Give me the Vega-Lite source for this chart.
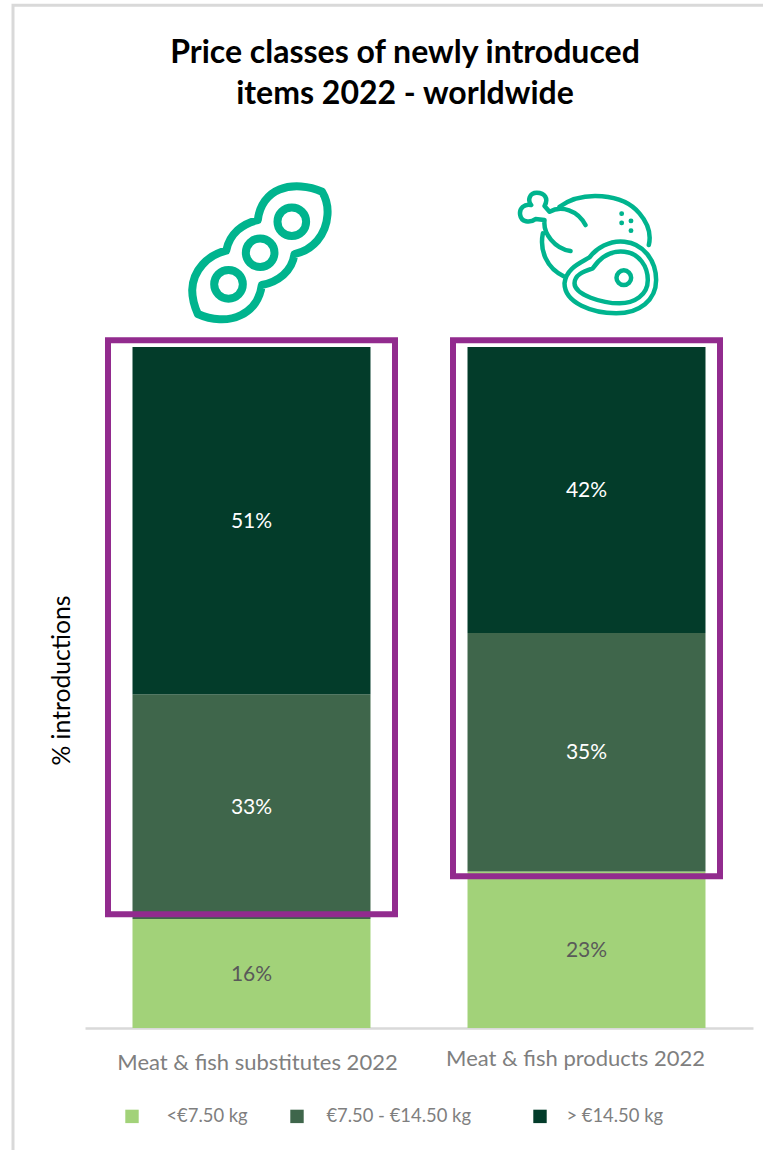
{
  "$schema": "https://vega.github.io/schema/vega-lite/v6.json",
  "autosize": {"type": "none"},
  "padding": {"left": 85, "top": 170, "right": 10, "bottom": 122},
  "width": 668,
  "height": 858,
  "background": "white",
  "view": {"stroke": null},
  "title": {
    "text": ["Price classes of newly introduced", "items 2022 - worldwide"],
    "anchor": "middle",
    "frame": "group",
    "dx": -14,
    "offset": -107,
    "font": "Lato",
    "fontSize": 32,
    "fontWeight": "bold",
    "lineHeight": 41,
    "color": "#000000"
  },
  "datasets": {
    "shares": [
      {"category": "Meat & fish substitutes 2022", "priceClass": "<€7.50 kg", "rank": 0, "share": 0.16},
      {"category": "Meat & fish substitutes 2022", "priceClass": "€7.50 - €14.50 kg", "rank": 1, "share": 0.33},
      {"category": "Meat & fish substitutes 2022", "priceClass": "> €14.50 kg", "rank": 2, "share": 0.51},
      {"category": "Meat & fish products 2022", "priceClass": "<€7.50 kg", "rank": 0, "share": 0.23},
      {"category": "Meat & fish products 2022", "priceClass": "€7.50 - €14.50 kg", "rank": 1, "share": 0.35},
      {"category": "Meat & fish products 2022", "priceClass": "> €14.50 kg", "rank": 2, "share": 0.42}
    ]
  },
  "encoding": {
    "x": {
      "field": "category",
      "type": "nominal",
      "sort": ["Meat & fish substitutes 2022", "Meat & fish products 2022"],
      "scale": {
        "domain": ["Meat & fish substitutes 2022", "Meat & fish products 2022"],
        "paddingInner": 0.2896,
        "paddingOuter": 0.1418
      },
      "axis": {
        "title": null,
        "labelAngle": 0,
        "labelFont": "Lato",
        "labelFontSize": 22,
        "labelColor": "#7F7F7F",
        "labelOffset": {"condition": {"test": "datum.value === 'Meat & fish products 2022'", "value": -11}, "value": 6},
        "labelPadding": {"condition": {"test": "datum.value === 'Meat & fish products 2022'", "value": 20}, "value": 24},
        "labelLimit": 400,
        "ticks": false,
        "domainColor": "#D9D9D9",
        "domainWidth": 2.5
      }
    }
  },
  "layer": [
    {
      "description": "Thin page frame along the top and left edges",
      "data": {"values": [{"category": "Meat & fish products 2022", "from": -0.253, "to": 1.502}]},
      "mark": {"type": "bar", "width": 1147, "fill": "transparent", "stroke": "#D9D9D9", "strokeWidth": 3},
      "encoding": {
        "y": {"field": "to", "type": "quantitative", "scale": {"domain": [0, 1.26], "nice": false}},
        "y2": {"field": "from"}
      }
    },
    {
      "data": {"name": "shares"},
      "mark": {"type": "bar"},
      "encoding": {
        "y": {
          "field": "share",
          "type": "quantitative",
          "stack": "zero",
          "scale": {"domain": [0, 1.26], "nice": false},
          "axis": {
            "title": "% introductions",
            "titleFont": "Lato",
            "titleFontSize": 24.7,
            "titleFontWeight": "normal",
            "titleColor": "#000000",
            "titleX": -11,
            "titleY": 510,
            "labels": false,
            "ticks": false,
            "domain": false,
            "grid": false
          }
        },
        "order": {"field": "rank"},
        "color": {
          "field": "priceClass",
          "type": "nominal",
          "scale": {
            "domain": ["<€7.50 kg", "€7.50 - €14.50 kg", "> €14.50 kg"],
            "range": ["#A2D279", "#3F664B", "#033C2A"]
          },
          "legend": {
            "orient": "none",
            "legendX": 38,
            "legendY": 937,
            "direction": "horizontal",
            "columns": 3,
            "title": null,
            "symbolType": "square",
            "symbolSize": 180,
            "symbolStrokeWidth": 0,
            "labelFont": "Lato",
            "labelFontSize": 18.4,
            "labelColor": "#7F7F7F",
            "labelOffset": 24,
            "columnPadding": 40,
            "labelLimit": 300,
            "encode": {
              "symbols": {
                "update": {
                  "x": {"signal": "datum.value === '> €14.50 kg' ? 29 : 9"}
                }
              },
              "labels": {
                "update": {
                  "dx": {"signal": "datum.value === '€7.50 - €14.50 kg' ? -4 : datum.value === '> €14.50 kg' ? 13 : 1"}
                }
              }
            }
          }
        }
      }
    },
    {
      "data": {"name": "shares"},
      "mark": {"type": "text", "font": "Lato", "fontSize": 21, "baseline": "middle", "dy": 1},
      "encoding": {
        "y": {"field": "share", "type": "quantitative", "stack": "zero", "bandPosition": 0.5},
        "order": {"field": "rank"},
        "text": {"field": "share", "type": "quantitative", "format": ".0%"},
        "color": {
          "condition": {"test": "datum.rank === 0", "value": "#595959"},
          "value": "#FFFFFF"
        }
      }
    },
    {
      "description": "Highlight box around the two upper classes of substitutes",
      "data": {"values": [{"category": "Meat & fish substitutes 2022", "from": 0.167, "to": 1.01}]},
      "mark": {"type": "bar", "width": 287, "fill": "transparent", "stroke": "#922B8E", "strokeWidth": 6},
      "encoding": {
        "y": {"field": "to", "type": "quantitative"},
        "y2": {"field": "from"}
      }
    },
    {
      "description": "Highlight box around the two upper classes of products",
      "data": {"values": [{"category": "Meat & fish products 2022", "from": 0.223, "to": 1.01}]},
      "mark": {"type": "bar", "width": 267, "fill": "transparent", "stroke": "#922B8E", "strokeWidth": 6},
      "encoding": {
        "y": {"field": "to", "type": "quantitative"},
        "y2": {"field": "from"}
      }
    },
    {
      "description": "Pea pod icon",
      "data": {"values": [{"category": "Meat & fish substitutes 2022", "level": 1.14}]},
      "mark": {
        "type": "point",
        "filled": false,
        "size": 0.444,
        "opacity": 1,
        "stroke": "#00B48E",
        "strokeWidth": 8,
        "strokeJoin": "round",
        "shape": "M212 -180C174 -197 124 -203 84 -187C49 -173 24 -140 19 -95C-26 -85 -66 -55 -76 -3C-131 10 -176 55 -178 115C-178 140 -171 165 -161 187C-121 205 -71 210 -31 190C4 173 26 140 31 100C79 90 122 60 129 7C184 -5 224 -50 228 -110C230 -135 224 -160 212 -180ZM164 -90C164 -66 145 -47 121 -47C97 -47 78 -66 78 -90C78 -114 97 -133 121 -133C145 -133 164 -114 164 -90ZM69 3C69 27 50 46 26 46C2 46 -17 27 -17 3C-17 -21 2 -40 26 -40C50 -40 69 -21 69 3ZM-26 98C-26 122 -45 141 -69 141C-93 141 -112 122 -112 98C-112 74 -93 55 -69 55C-45 55 -26 74 -26 98Z"
      },
      "encoding": {
        "y": {"field": "level", "type": "quantitative"}
      }
    },
    {
      "description": "Drumstick and steak icon",
      "data": {"values": [{"category": "Meat & fish products 2022", "level": 1.14}]},
      "mark": {
        "type": "point",
        "filled": false,
        "size": 0.444,
        "opacity": 1,
        "stroke": "#00B48E",
        "strokeWidth": 4.5,
        "strokeJoin": "round",
        "strokeCap": "round",
        "shape": "M-111 -120L-126 -137C-113 -160 -126 -177 -149 -177C-171 -177 -178 -155 -166 -140C-186 -145 -203 -130 -199 -110C-196 -90 -171 -85 -153 -98L-126 -95C-131 -55 -96 -10 -48 -2M-111 -120C-76 -140 -26 -125 -3 -80M-81 -135C-11 -185 109 -175 159 -115C189 -80 194 -50 187 -20M-131 -55C-141 -5 -121 50 -66 75M-66 95C-61 50 -21 35 9 17C29 -10 69 -35 114 -30C169 -25 209 25 209 85C209 145 159 185 89 185C19 185 -66 155 -66 95ZM-36 95C-36 70 -11 60 19 50C39 20 69 -5 114 0C159 5 184 45 184 85C184 130 144 155 99 155C49 155 -36 130 -36 95ZM134 78C134 90 124 100 112 100C100 100 90 90 90 78C90 66 100 56 112 56C124 56 134 66 134 78ZM105 -115L106 -115L106 -114L105 -114ZM105 -87L106 -87L106 -86L105 -86ZM133 -93L134 -93L134 -92L133 -92ZM133 -64L134 -64L134 -63L133 -63Z"
      },
      "encoding": {
        "y": {"field": "level", "type": "quantitative"}
      }
    }
  ]
}
